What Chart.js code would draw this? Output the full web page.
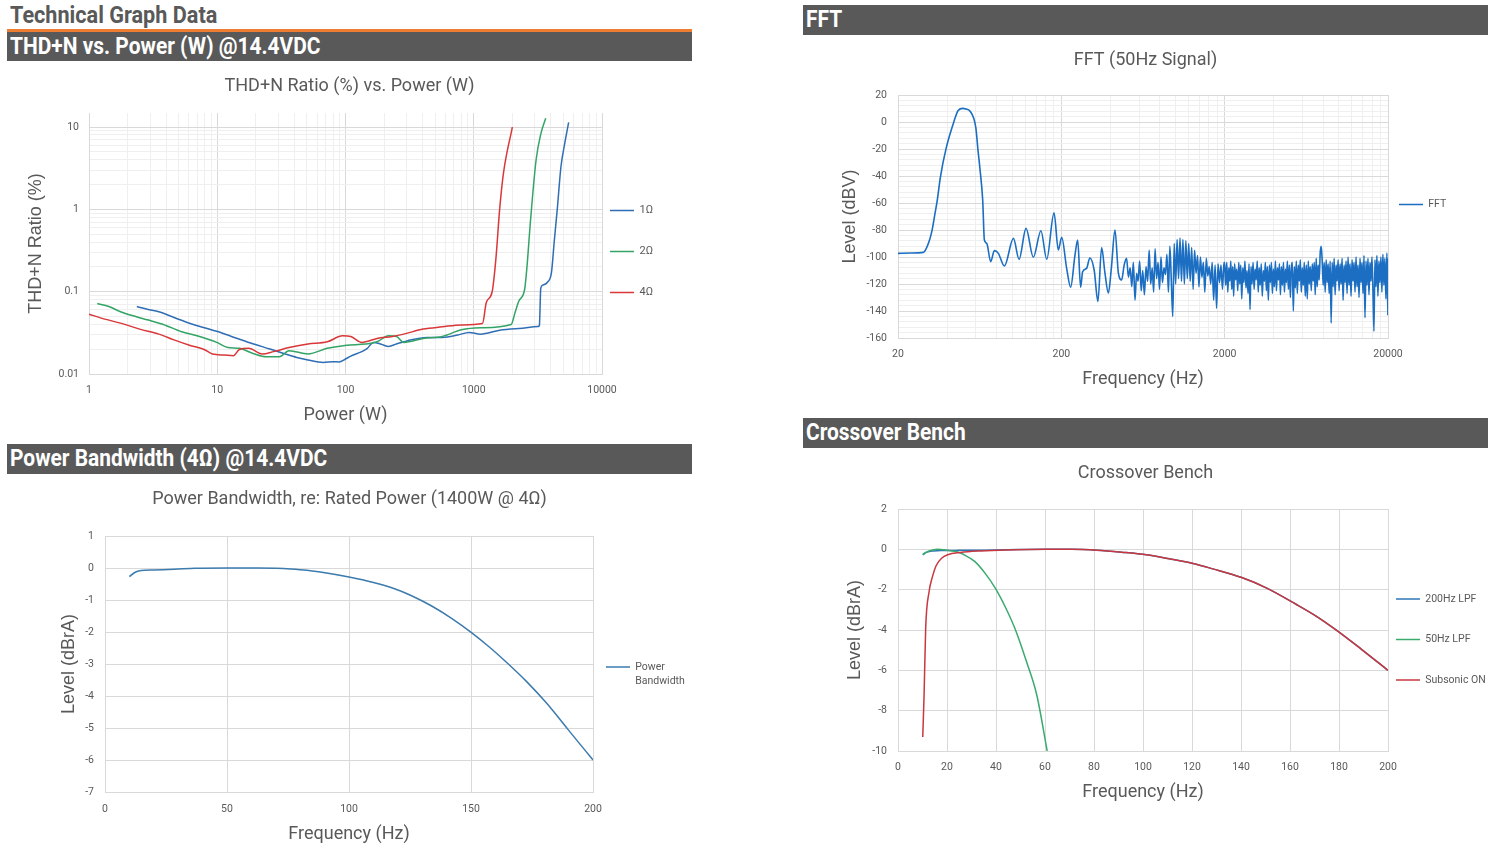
<!DOCTYPE html>
<html>
<head>
<meta charset="utf-8">
<script src="https://cdn.jsdelivr.net/npm/chart.js@4.4.0/dist/chart.umd.min.js"></script>
<style>
    body {
        margin: 0;
        width: 1500px;
        height: 848px;
        background: #fff;
        position: relative;
        overflow: hidden;
        font-family: Roboto, sans-serif;
    }
    .bar {
        position: absolute;
        width: 685px;
        box-sizing: border-box;
        padding-left: 3px;
        background: #595959;
        color: #fff;
        font-weight: bold;
        font-size: 23px;
        font-family: Roboto, sans-serif;
        white-space: nowrap;
    }
    .narrow {
        display: inline-block;
        transform: scaleX(0.91);
        transform-origin: left center;
    }
    .box {
        position: absolute;
        width: 685px;
    }
</style>
</head>

<body>
    <div style="position:absolute;left:10px;top:1px;height:29px;line-height:29px;color:#595959;font-weight:bold;font-size:23px;font-family:Roboto,sans-serif;white-space:nowrap;"><span class="narrow" style="transform:scaleX(0.94)">Technical Graph Data</span></div>
    <div style="position:absolute;left:7px;top:29px;width:685px;height:3px;background:#ed7d31;"></div>

    <div class="bar" style="left:7px;top:32px;height:29px;line-height:29px;"><span class="narrow">THD+N vs. Power (W) @14.4VDC</span></div>
    <div class="box" style="left:7px;top:64px;height:376px;"><canvas id="thdChart"></canvas></div>

    <div class="bar" style="left:7px;top:444px;height:30px;line-height:30px;"><span class="narrow">Power Bandwidth (4Ω) @14.4VDC</span></div>
    <div class="box" style="left:7px;top:476px;height:372px;"><canvas id="pbChart"></canvas></div>

    <div class="bar" style="left:803px;top:5px;height:30px;line-height:30px;"><span class="narrow">FFT</span></div>
    <div class="box" style="left:803px;top:38px;height:360px;"><canvas id="fftChart"></canvas></div>

    <div class="bar" style="left:803px;top:418px;height:30px;line-height:30px;"><span class="narrow">Crossover Bench</span></div>
    <div class="box" style="left:803px;top:450px;height:360px;"><canvas id="xoChart"></canvas></div>

<script>
    // ---- THD+N vs power ----
    var thdPowerTicks = [1, 10, 100, 1000, 10000];
    var thdRatioTicks = [0.01, 0.1, 1, 10];

    var power1 = [2.36, 2.85, 3.5, 4.6, 6.5, 9.9, 12.9, 18.2, 25.7, 33.9, 41.7, 51, 67, 80, 89, 100, 109, 134, 148, 165, 190, 217, 249, 306, 431, 568, 748, 919, 1130, 1592, 2248, 3170, 3250, 3330, 3443, 3767, 4035, 4250, 4478, 4790, 5130, 5495];
    var thd1 = [0.066, 0.061, 0.057, 0.0485, 0.040, 0.033, 0.0286, 0.0238, 0.0201, 0.0175, 0.0159, 0.0148, 0.0138, 0.0141, 0.014, 0.0152, 0.0164, 0.0187, 0.0205, 0.0242, 0.023, 0.0216, 0.0231, 0.0254, 0.0278, 0.0278, 0.0297, 0.032, 0.0305, 0.0341, 0.0357, 0.0378, 0.039, 0.11, 0.12, 0.131, 0.17, 0.42, 1.0, 3.34, 6.4, 11.4];

    var power2 = [1.16, 1.43, 1.76, 2.31, 2.85, 3.75, 5.28, 6.96, 9.9, 12.1, 14.8, 19.5, 24, 30.5, 36.3, 51, 72, 102, 143, 176, 217, 250, 285, 403, 568, 801, 1130, 1960, 2100, 2248, 2494, 2600, 2762, 3064, 3350, 3640];
    var thd2 = [0.0718, 0.066, 0.057, 0.0499, 0.0455, 0.0403, 0.0326, 0.0291, 0.0242, 0.021, 0.0205, 0.0175, 0.0162, 0.0162, 0.0192, 0.0175, 0.0205, 0.0224, 0.0231, 0.0246, 0.0291, 0.0285, 0.0242, 0.027, 0.0286, 0.0344, 0.0364, 0.04, 0.056, 0.077, 0.107, 0.2, 0.687, 4.0, 8.5, 12.8];

    var power4 = [1, 1.33, 1.76, 2.48, 3.5, 4.6, 6.07, 7.98, 9.16, 11.3, 13.4, 14.8, 17.6, 22.4, 27.5, 36.3, 51, 72, 95, 110, 134, 176, 232, 285, 403, 568, 801, 1170, 1253, 1390, 1487, 1592, 1706, 2000];
    var thd4 = [0.0533, 0.0464, 0.0415, 0.0351, 0.0305, 0.026, 0.0224, 0.0197, 0.0175, 0.017, 0.0167, 0.0197, 0.0205, 0.0175, 0.0187, 0.021, 0.0231, 0.0246, 0.0291, 0.0285, 0.0242, 0.027, 0.0286, 0.0305, 0.0351, 0.0374, 0.0395, 0.0411, 0.074, 0.099, 0.247, 1.0, 2.77, 10];

    // ---- FFT (50Hz signal) ----
    var fftFreqTicks = [20, 200, 2000, 20000];
    var fftFreq = [20, 24, 28.6, 30.7, 32.2, 33.7, 34.8, 36.3, 39.5, 44.1, 46.7, 49.9, 52.1, 55.1, 59.9, 61.7, 63.4, 66, 67.6, 69.9, 73.9, 77.8, 82.3, 89.6, 101.8, 110.2, 121.6, 134.8, 150, 162.8, 180.4, 191.7, 201, 215.6, 228, 242.5, 251.8, 262.5, 270, 285.5, 299, 318, 335, 353, 370, 388, 405, 426, 447, 468, 485,
        502, 515, 528, 540, 552, 565, 578, 590, 603, 617, 630, 645, 660, 675, 690, 705, 720, 735, 750, 766, 782, 798, 815, 832, 850, 868, 886, 905, 924, 943, 962, 982, 1002, 1023, 1044, 1066, 1088, 1110, 1133, 1157, 1181, 1205, 1230, 1256, 1282, 1309, 1336, 1364, 1392, 1421, 1451, 1481, 1512, 1544, 1576, 1609, 1643, 1677, 1712, 1748, 1785, 1822, 1860, 1899, 1939, 1980,
        2000, 2030, 2060, 2090, 2120, 2150, 2180, 2210, 2240, 2270, 2300, 2335, 2370, 2405, 2440, 2475, 2510, 2545, 2580, 2620, 2660, 2700, 2740, 2780, 2820, 2860, 2900, 2940, 2985, 3030, 3075, 3120, 3165, 3210, 3255, 3300, 3350, 3400, 3450, 3500, 3550, 3600, 3650, 3700, 3755, 3810, 3865, 3920, 3975, 4030, 4090, 4150, 4210, 4270, 4330, 4390, 4450, 4515, 4580, 4645, 4710, 4775, 4840, 4910, 4980,
        5050, 5120, 5190, 5265, 5340, 5415, 5490, 5570, 5650, 5730, 5810, 5890, 5975, 6060, 6145, 6230, 6320, 6410, 6500, 6590, 6685, 6780, 6875, 6970, 7070, 7170, 7270, 7370, 7475, 7580, 7690, 7800, 7910, 8020, 8135, 8250, 8365, 8485, 8605, 8725, 8850, 8975, 9100, 9230, 9360, 9490, 9625, 9760, 9900,
        10040, 10180, 10325, 10470, 10620, 10770, 10920, 11075, 11230, 11390, 11550, 11715, 11880, 12050, 12220, 12390, 12565, 12745, 12925, 13110, 13295, 13480, 13670, 13865, 14060, 14260, 14460, 14665, 14870, 15080, 15295, 15510, 15730, 15950, 16175, 16405, 16635, 16870, 17110, 17350, 17595, 17845, 18095, 18350, 18610, 18875, 19140, 19410, 19685, 19960, 20000];
    var fftLevel = [-97.3, -97, -96.6, -89.9, -81.2, -67.7, -57.8, -41.3, -19, 0.7, 8.6, 10.1, 9.6, 8.1, -4.2, -20.3, -33.9, -57.8, -87.4, -89.9, -103.5, -95.3, -97.3, -106.7, -86.2, -101.7, -78.8, -100.2, -80.5, -101.7, -67.2, -94.8, -85.4, -108.4, -122.4, -98.5, -87.4, -122.4, -110.9, -108.4, -100.7, -110, -133, -93, -112, -126.7, -108, -80, -112, -117, -106,
        -101, -115, -108, -122, -104, -132, -112, -118, -103, -125, -110, -128, -107, -118, -95, -120, -108, -126, -94, -116, -104, -124, -100, -119, -108, -113, -98, -126, -92, -118, -144, -90, -120, -87, -116, -86, -118, -87, -120, -88, -116, -90, -118, -93, -124, -95, -112, -99, -122, -100, -115, -104, -126, -101, -114, -107, -120, -104, -132, -106, -138, -105, -119, -106, -124, -104,
        -106, -121, -104, -126, -108, -118, -103, -124, -107, -129, -105, -117, -109, -125, -104, -120, -106, -131, -108, -119, -103, -123, -110, -127, -105, -139, -107, -120, -104, -124, -109, -117, -103, -126, -108, -121, -105, -129, -110, -118, -104, -125, -107, -132, -106, -119, -104, -127, -109, -122, -103, -125, -108, -117, -105, -128, -107, -121, -104, -126, -109, -119, -103, -124, -106,
        -130, -108, -104, -140, -107, -123, -103, -127, -106, -118, -102, -126, -108, -121, -104, -129, -106, -131, -103, -120, -107, -125, -105, -118, -104, -128, -101, -122, -106, -117, -97, -92, -103, -121, -104, -126, -102, -119, -105, -127, -103, -149, -104, -122, -101, -128, -106, -118, -102,
        -125, -105, -120, -101, -132, -106, -119, -103, -127, -100, -121, -105, -129, -102, -118, -104, -126, -100, -122, -106, -130, -101, -119, -104, -127, -99, -145, -103, -121, -101, -128, -104, -118, -100, -125, -155, -102, -122, -99, -129, -103, -119, -100, -126, -98, -121, -101, -131, -97, -143, -101];

    // ---- Power bandwidth ----
    var pbFreq = [10, 12.2, 14.8, 19.9, 28.4, 36.9, 50.1, 62.4, 70, 76, 82.8, 89.5, 100, 110, 118.4, 125.2, 133.7, 142.2, 150.2, 157.5, 164.3, 172.8, 181.3, 189.8, 200];
    var pbLevel = [-0.27, -0.14, -0.08, -0.06, -0.04, -0.01, 0, 0, -0.01, -0.03, -0.07, -0.14, -0.28, -0.45, -0.64, -0.85, -1.18, -1.58, -2.02, -2.47, -2.93, -3.55, -4.25, -5.05, -6.0];

    // ---- Crossover bench ----
    var lpf200Freq = [10.1, 11.8, 14.4, 18.6, 25, 35, 45, 60, 71, 81.2, 91.3, 101.4, 111.6, 120, 128.5, 140.3, 150.5, 162.3, 170.8, 179.2, 189.3, 200];
    var lpf200Level = [-0.27, -0.14, -0.08, -0.06, -0.05, -0.04, -0.02, 0, 0, -0.04, -0.14, -0.27, -0.49, -0.69, -0.97, -1.40, -1.92, -2.71, -3.32, -4.03, -4.97, -6.0];
    var lpf50Freq = [10.1, 12.7, 16.1, 19.4, 23.7, 27, 31.3, 35.5, 39.7, 44, 48.2, 52.4, 56.6, 60.9];
    var lpf50Level = [-0.24, -0.08, 0.0, -0.03, -0.11, -0.27, -0.60, -1.18, -1.92, -2.91, -4.07, -5.55, -7.2, -10.0];
    var subFreq = [10.1, 10.65, 11.3, 12.7, 13.9, 15.6, 17.8, 20.3, 25.4, 33.8, 44, 60.9, 71, 81.2, 91.3, 101.4, 111.6, 120, 128.5, 140.3, 150.5, 162.3, 170.8, 179.2, 189.3, 200];
    var subLevel = [-9.31, -7.2, -3.9, -2.09, -1.43, -0.80, -0.44, -0.27, -0.16, -0.08, -0.03, 0, 0, -0.04, -0.14, -0.27, -0.49, -0.69, -0.97, -1.40, -1.92, -2.71, -3.32, -4.03, -4.97, -6.0];

    // ---- helpers ----
    var GREY = '#595959';
    var GRID_MAJOR = '#d9d9d9';
    var GRID_MINOR = '#efefef';
    Chart.defaults.font.family = 'Roboto';
    Chart.defaults.color = GREY;

    function points(xs, ys) {
        return xs.map(function (x, i) { return { x: x, y: ys[i] }; });
    }

    // major decades plus the 2..9 multiples, like the Excel log grid
    function logTicks(majors, max) {
        var ticks = [];
        majors.forEach(function (m) {
            ticks.push({ value: m, major: true });
            for (var k = 2; k <= 9; k++) {
                if (m * k < max) ticks.push({ value: m * k, major: false });
            }
        });
        return ticks;
    }

    // legend entries drawn as short lines
    function lineLegend(chart) {
        return Chart.defaults.plugins.legend.labels.generateLabels(chart).map(function (item) {
            item.fillStyle = item.strokeStyle;
            item.lineWidth = 0;
            return item;
        });
    }

    // fixed legend width, then place it 'gap' px right of the plot (Excel style)
    var legendPlace = {
        id: 'legendPlace',
        defaults: { width: 0, gap: 8, dy: 0 },
        beforeLayout: function (chart, args, opts) {
            var lg = chart.legend;
            if (lg && !lg._fixedFit) {
                var fit = lg.fit;
                lg.fit = function () {
                    fit.call(this);
                    if (opts.width) this.width = opts.width;
                };
                lg._fixedFit = true;
            }
        },
        afterLayout: function (chart, args, opts) {
            var lg = chart.legend;
            if (!lg) return;
            lg.left = chart.chartArea.right + opts.gap - lg.options.labels.padding;
            lg.right = chart.width;
            lg.width = lg.right - lg.left;
            lg.top += opts.dy;
            lg.bottom += opts.dy;
        }
    };

    function chartTitle(text, top, bottom) {
        return { display: true, text: text, color: GREY, font: { family: 'Roboto', size: 18, weight: 'normal' }, padding: { top: top, bottom: bottom } };
    }

    function legendOpts(padding, size, lineHeight) {
        return {
            position: 'right',
            labels: {
                boxWidth: 24,
                boxHeight: 1.5,
                padding: padding,
                color: GREY,
                font: { family: 'Roboto', size: size, lineHeight: lineHeight || 1.2 },
                generateLabels: lineLegend,
                sort: function (a, b) { return a.datasetIndex - b.datasetIndex; }
            }
        };
    }

    function axis(cfg) {
        var vertical = cfg.width !== undefined;
        var ax = {
            type: cfg.type,
            min: cfg.min,
            max: cfg.max,
            border: { color: GRID_MAJOR },
            grid: { color: cfg.gridColor || GRID_MAJOR, drawTicks: false },
            ticks: { color: GREY, font: { size: 10.5 }, padding: cfg.tickPad, maxRotation: 0, autoSkip: false },
            title: {
                display: true, text: cfg.title, color: GREY,
                font: { family: vertical ? 'Liberation Sans' : 'Roboto', size: 18 },
                padding: vertical ? { top: cfg.titlePad, bottom: 0 } : { top: 0, bottom: cfg.titlePad }
            },
            afterFit: function (s) {
                if (vertical) s.width = cfg.width; else s.height = cfg.height;
            }
        };
        if (cfg.stepSize) ax.ticks.stepSize = cfg.stepSize;
        if (cfg.callback) ax.ticks.callback = cfg.callback;
        if (cfg.majors) {
            ax.afterBuildTicks = function (s) { s.ticks = logTicks(cfg.majors, cfg.max); };
        }
        return ax;
    }

    function lineSet(label, xs, ys, color, width, order) {
        return {
            label: label,
            data: points(xs, ys),
            borderColor: color,
            backgroundColor: color,
            borderWidth: width,
            pointRadius: 0,
            cubicInterpolationMode: 'monotone',
            order: order || 0
        };
    }

    var majorLabel = function (value, index, ticks) { return ticks[index].major ? String(value) : ''; };
    var majorGrid = function (ctx) { return ctx.tick && ctx.tick.major ? GRID_MAJOR : GRID_MINOR; };

    // THD+N chart
    new Chart(document.getElementById('thdChart'), {
        type: 'line',
        data: {
            datasets: [
                lineSet('1Ω', power1, thd1, '#2f6eb5', 1.5, 2),
                lineSet('2Ω', power2, thd2, '#33a466', 1.5, 1),
                lineSet('4Ω', power4, thd4, '#d9383a', 1.5, 0)
            ]
        },
        options: {
            animation: false,
            maintainAspectRatio: false,
            plugins: {
                title: chartTitle('THD+N Ratio (%) vs. Power (W)', 11.2, 16.2),
                legend: legendOpts(30, 11),
                legendPlace: { width: 90, gap: 8, dy: -0.5 },
                tooltip: { enabled: false }
            },
            scales: {
                x: axis({ type: 'logarithmic', min: 1, max: 10000, majors: thdPowerTicks, callback: majorLabel, gridColor: majorGrid,
                    title: 'Power (W)', tickPad: 10.2, titlePad: 14.2, height: 66 }),
                y: axis({ type: 'logarithmic', min: 0.01, max: 14.8, majors: thdRatioTicks, callback: majorLabel, gridColor: majorGrid,
                    title: 'THD+N Ratio (%)', tickPad: 10, titlePad: 18.2, width: 82 })
            }
        },
        plugins: [legendPlace]
    });

    // Power bandwidth chart
    new Chart(document.getElementById('pbChart'), {
        type: 'line',
        data: {
            datasets: [lineSet(['Power', 'Bandwidth'], pbFreq, pbLevel, '#3c7bae', 1.5)]
        },
        options: {
            animation: false,
            maintainAspectRatio: false,
            plugins: {
                title: chartTitle('Power Bandwidth, re: Rated Power (1400W @ 4Ω)', 12.2, 26.2),
                legend: legendOpts(10, 10.5, 1.33),
                legendPlace: { width: 99, gap: 13, dy: 13.8 },
                tooltip: { enabled: false }
            },
            scales: {
                x: axis({ type: 'linear', min: 0, max: 200, stepSize: 50,
                    title: 'Frequency (Hz)', tickPad: 11.2, titlePad: 3.2, height: 56 }),
                y: axis({ type: 'linear', min: -7, max: 1, stepSize: 1,
                    title: 'Level (dBrA)', tickPad: 11, titlePad: 51.2, width: 98 })
            }
        },
        plugins: [legendPlace]
    });

    // FFT chart - smooth harmonics, dense noise floor
    new Chart(document.getElementById('fftChart'), {
        type: 'line',
        data: { datasets: [lineSet('FFT', fftFreq, fftLevel, '#1b6ec2', 1.6)] },
        options: {
            animation: false,
            maintainAspectRatio: false,
            plugins: {
                title: chartTitle('FFT (50Hz Signal)', 11.2, 24.2),
                legend: legendOpts(10, 10.5),
                legendPlace: { width: 100, gap: 11, dy: -13.5 },
                tooltip: { enabled: false }
            },
            scales: {
                x: axis({ type: 'logarithmic', min: 20, max: 20000, majors: fftFreqTicks, callback: majorLabel, gridColor: majorGrid,
                    title: 'Frequency (Hz)', tickPad: 9.7, titlePad: 8.2, height: 60 }),
                y: axis({ type: 'linear', min: -160, max: 20, stepSize: 4,
                    callback: function (v) { return v % 20 === 0 ? v : ''; },
                    gridColor: function (ctx) { return ctx.tick && ctx.tick.value % 20 === 0 ? GRID_MAJOR : GRID_MINOR; },
                    title: 'Level (dBV)', tickPad: 11, titlePad: 36.2, width: 95 })
            }
        },
        plugins: [legendPlace]
    });

    // Crossover bench chart
    new Chart(document.getElementById('xoChart'), {
        type: 'line',
        data: {
            datasets: [
                lineSet('200Hz LPF', lpf200Freq, lpf200Level, '#2e75b6', 1.5, 2),
                lineSet('50Hz LPF', lpf50Freq, lpf50Level, '#3aaa6e', 1.5, 1),
                lineSet('Subsonic ON', subFreq, subLevel, '#c8383e', 1.5, 0)
            ]
        },
        options: {
            animation: false,
            maintainAspectRatio: false,
            plugins: {
                title: chartTitle('Crossover Bench', 12.2, 25.2),
                legend: legendOpts(30, 10.5),
                legendPlace: { width: 100, gap: 8, dy: 9.5 },
                tooltip: { enabled: false }
            },
            scales: {
                x: axis({ type: 'linear', min: 0, max: 200, stepSize: 20,
                    title: 'Frequency (Hz)', tickPad: 9.7, titlePad: 7.2, height: 59 }),
                y: axis({ type: 'linear', min: -10, max: 2, stepSize: 2,
                    title: 'Level (dBrA)', tickPad: 11, titlePad: 41.2, width: 95 })
            }
        },
        plugins: [legendPlace]
    });
</script>
</body>
</html>
